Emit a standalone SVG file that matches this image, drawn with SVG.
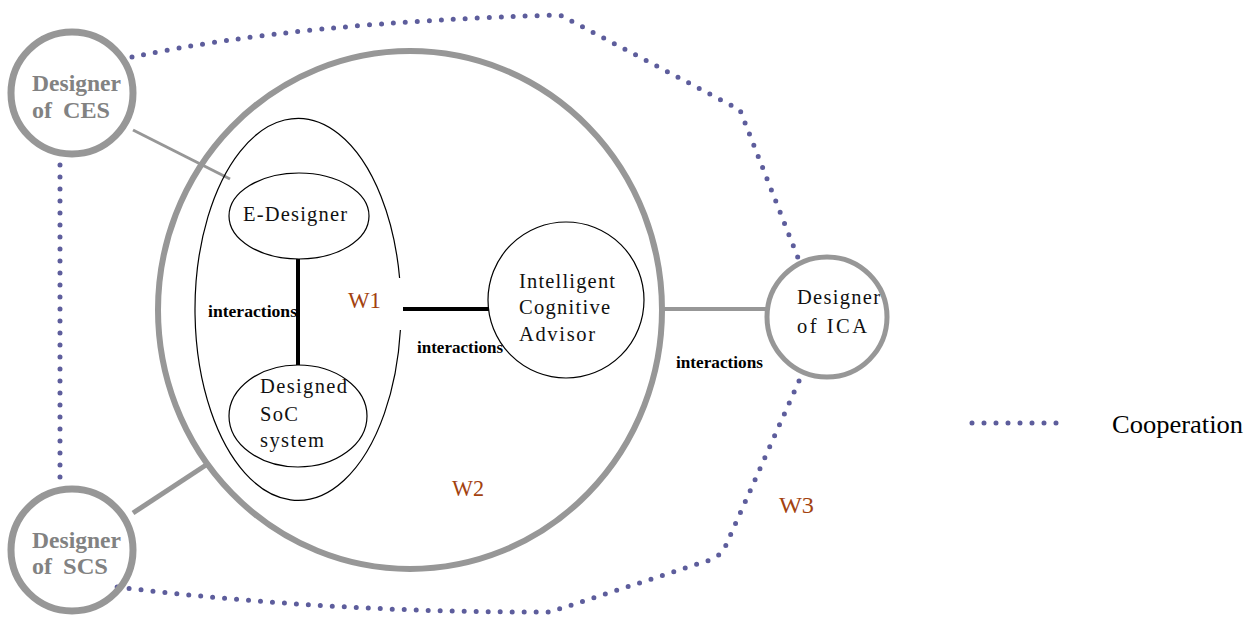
<svg xmlns="http://www.w3.org/2000/svg" width="1253" height="617" viewBox="0 0 1253 617">
  <style>
    .ring { fill: none; stroke: #979797; }
    .thin { fill: none; stroke: #000; stroke-width: 1.2; }
    .solid { stroke: #000; stroke-width: 4; fill: none; }
    .grey { stroke: #979797; fill: none; }
    .coop { fill: none; stroke: #5d5d9c; stroke-width: 5; stroke-linecap: round; stroke-dasharray: 0 12; }
    .lbl { font-family: "Liberation Serif", "Times New Roman", serif; font-size: 20.5px; fill: #111; }
    .gbold { font-family: "Liberation Serif", "Times New Roman", serif; font-size: 24px; font-weight: bold; fill: #828282; }
    .inter { font-family: "Liberation Serif", "Times New Roman", serif; font-size: 16.5px; font-weight: bold; fill: #000; }
    .world { font-family: "Liberation Serif", "Times New Roman", serif; font-size: 23px; fill: #a3420f; }
    .legend { font-family: "Liberation Serif", "Times New Roman", serif; font-size: 26px; fill: #000; }
  </style>

  <rect width="1253" height="617" fill="#fff"/>

  <!-- connectors: cooperation (dotted) and interaction links -->
  <g id="connectors">
    <path class="coop" d="M132,57 Q300,22 560,15 L740,110 L802,268"/>
    <path class="coop" d="M799,381 L726,545 Q722,555 710,560 L550,612 Q330,613 108,586"/>
    <path class="coop" d="M60,153 L60,478"/>
    <line class="grey" x1="133" y1="130" x2="230" y2="179" stroke-width="3"/>
    <line class="grey" x1="133" y1="513" x2="206" y2="465" stroke-width="5"/>
    <line class="grey" x1="663" y1="309" x2="767" y2="309" stroke-width="4"/>
    <line class="solid" x1="298" y1="259" x2="298" y2="365"/>
    <line class="solid" x1="403" y1="309" x2="489" y2="309"/>
  </g>

  <!-- world W2 -->
  <g id="world-w2">
    <ellipse class="ring" cx="410" cy="310" rx="252" ry="259" stroke-width="6"/>
    <text class="world" x="452" y="496" textLength="32" lengthAdjust="spacingAndGlyphs">W2</text>
  </g>

  <!-- world W1 (open on the right for the link) -->
  <g id="world-w1">
    <path class="thin" d="M400.4,330 A103,191 0 1 1 399.6,278"/>
    <text class="world" x="348" y="308" textLength="33" lengthAdjust="spacingAndGlyphs">W1</text>
  </g>

  <g id="e-designer">
    <ellipse class="thin" cx="299" cy="216" rx="70" ry="43"/>
    <text class="lbl" x="243" y="221" textLength="104" lengthAdjust="spacing">E-Designer</text>
  </g>

  <g id="soc-system">
    <ellipse class="thin" cx="298" cy="416" rx="69" ry="51"/>
    <text class="lbl" x="260" y="393" textLength="87" lengthAdjust="spacing">Designed</text>
    <text class="lbl" x="260" y="421" textLength="38" lengthAdjust="spacing">SoC</text>
    <text class="lbl" x="260" y="447" textLength="64" lengthAdjust="spacing">system</text>
  </g>

  <g id="ica-advisor">
    <circle class="thin" cx="566" cy="300" r="78"/>
    <text class="lbl" x="519" y="288" textLength="96" lengthAdjust="spacing">Intelligent</text>
    <text class="lbl" x="519" y="314" textLength="91" lengthAdjust="spacing">Cognitive</text>
    <text class="lbl" x="519" y="341" textLength="76" lengthAdjust="spacing">Advisor</text>
  </g>

  <g id="designer-ica">
    <circle class="ring" cx="827" cy="317" r="60" stroke-width="5"/>
    <text class="lbl" x="797" y="304" textLength="83" lengthAdjust="spacing">Designer</text>
    <text class="lbl" x="797" y="333" textLength="70" lengthAdjust="spacing">of ICA</text>
  </g>

  <g id="designer-ces">
    <circle class="ring" cx="72" cy="93" r="61" stroke-width="7"/>
    <text class="gbold" x="32" y="91" textLength="89" lengthAdjust="spacingAndGlyphs">Designer</text>
    <text class="gbold" x="32" y="118">of</text>
    <text class="gbold" x="63" y="118" textLength="47" lengthAdjust="spacingAndGlyphs">CES</text>
  </g>

  <g id="designer-scs">
    <circle class="ring" cx="72" cy="550" r="61" stroke-width="7"/>
    <text class="gbold" x="32" y="548" textLength="89" lengthAdjust="spacingAndGlyphs">Designer</text>
    <text class="gbold" x="32" y="574">of</text>
    <text class="gbold" x="63" y="574" textLength="45" lengthAdjust="spacingAndGlyphs">SCS</text>
  </g>

  <!-- interaction labels -->
  <g id="labels">
    <text class="inter" x="208" y="317" textLength="89" lengthAdjust="spacingAndGlyphs">interactions</text>
    <text class="inter" x="417" y="353" textLength="86" lengthAdjust="spacingAndGlyphs">interactions</text>
    <text class="inter" x="676" y="368" textLength="87" lengthAdjust="spacingAndGlyphs">interactions</text>
    <text class="world" x="779" y="513" textLength="35" lengthAdjust="spacingAndGlyphs">W3</text>
  </g>

  <!-- legend -->
  <g id="legend">
    <line class="coop" x1="972" y1="423" x2="1060" y2="423"/>
    <text class="legend" x="1112" y="433" textLength="131" lengthAdjust="spacingAndGlyphs">Cooperation</text>
  </g>
</svg>
